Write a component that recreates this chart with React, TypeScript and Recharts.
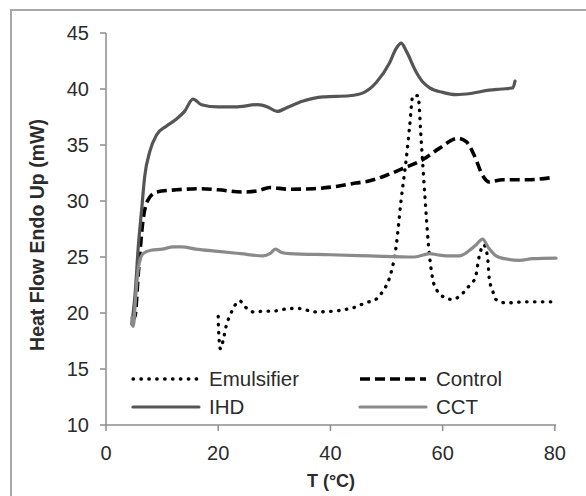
import { LineChart, Line, XAxis, YAxis } from 'recharts'

// temperature (°C) and heat flow (mW)
const emulsifierT = [20, 20.05, 20.4, 20.9, 21.4, 22.2, 23, 23.8, 24.7, 26.2, 28, 30.4, 32.7, 34.5, 37.2, 40.2, 42.5, 44.3, 46.2, 48.2, 49.4, 50.5, 51.7, 52.6, 53.5, 54.1, 54.7, 55.6, 56.2, 56.8, 57.5, 58.2, 59, 60.3, 61.8, 63, 64.2, 65, 65.8, 66.5, 67.3, 68, 68.3, 68.9, 69.5, 71.3, 75, 79.6]
const emulsifierH = [19.7, 18.6, 16.8, 17.6, 18.8, 19.9, 20.7, 21.1, 20.6, 20.1, 20.15, 20.2, 20.4, 20.4, 20.1, 20.15, 20.3, 20.5, 20.9, 21.25, 22, 23.1, 25.9, 30.1, 33.7, 36.6, 39.4, 39.4, 35.2, 30.7, 25.9, 23.1, 22, 21.4, 21.2, 21.5, 22.1, 22.6, 23.1, 25, 26.1, 25, 23.1, 22, 21.2, 20.9, 21, 21]

const controlT = [4.7, 5.2, 5.75, 6.6, 7.5, 9, 12.6, 16.7, 20, 24.4, 27, 29.2, 32.7, 37, 41, 44.5, 47, 50, 52.9, 56.5, 59.4, 62.7, 64.2, 65.7, 67.1, 68.3, 70.7, 75, 79.6]
const controlH = [19.3, 19.8, 23.5, 28.3, 30.1, 30.8, 31, 31.1, 31, 30.8, 30.9, 31.2, 31.05, 31.1, 31.3, 31.6, 31.8, 32.3, 32.9, 33.7, 34.7, 35.6, 35.3, 34, 32.3, 31.7, 31.9, 31.9, 32.1]

const ihdT = [4.6, 5.2, 5.75, 6.35, 6.9, 7.8, 9, 10.8, 12.5, 14, 15.5, 17, 20, 23, 27, 28.8, 30.5, 32.5, 35, 38.7, 43.4, 46, 48.2, 50.5, 51.7, 52.6, 53.5, 55.3, 56.5, 57.7, 60, 62.4, 65, 68.3, 70.5, 72.5, 72.9]
const ihdH = [19, 21.8, 25.9, 29.2, 32.2, 34.4, 35.9, 36.7, 37.3, 38, 39.1, 38.6, 38.4, 38.4, 38.6, 38.4, 38, 38.4, 38.9, 39.3, 39.4, 39.7, 40.6, 42.3, 43.6, 44.1, 43.4, 41.5, 40.6, 40.1, 39.7, 39.5, 39.6, 39.9, 40, 40.1, 40.7]

const cctT = [4.6, 4.85, 5.3, 5.7, 6.05, 6.6, 8, 10, 12, 13.5, 16, 20, 24, 28, 29.2, 30.2, 31.3, 32.7, 40, 47, 55, 57.7, 59, 60.6, 63, 64.8, 66, 67.1, 68.2, 69.5, 71, 73.7, 76, 80.2]
const cctH = [19.6, 18.8, 21.5, 23.8, 24.7, 25.3, 25.6, 25.7, 25.9, 25.9, 25.7, 25.5, 25.3, 25.1, 25.3, 25.7, 25.4, 25.3, 25.2, 25.1, 25, 25.3, 25.2, 25.1, 25.1, 25.6, 26.1, 26.6, 25.8, 25.1, 24.85, 24.7, 24.85, 24.9]

const xTicks = [0, 20, 40, 60, 80]
const yTicks = [10, 15, 20, 25, 30, 35, 40, 45]

const toPoints = (t: number[], h: number[]) => t.map((x, i) => ({ t: x, h: h[i] }))

const font = '"Liberation Sans", Arial, sans-serif'
const textColor = '#2b2b2b'
const axisColor = '#8c8c8c'

const series = [
  { name: 'Emulsifier', data: toPoints(emulsifierT, emulsifierH), color: '#000', width: 3.3, dash: '0.5 7.4', cap: 'round' as const },
  { name: 'Control', data: toPoints(controlT, controlH), color: '#000', width: 3.6, dash: '10 5', cap: 'butt' as const },
  { name: 'IHD', data: toPoints(ihdT, ihdH), color: '#555', width: 3.2, dash: undefined, cap: 'round' as const },
  { name: 'CCT', data: toPoints(cctT, cctH), color: '#8a8a8a', width: 3.2, dash: undefined, cap: 'round' as const },
]

function LegendItem({ s }: { s: (typeof series)[number] }) {
  return (
    <div style={{ display: 'flex', alignItems: 'center', height: 28 }}>
      <svg width={70} height={10} style={{ marginRight: 8 }}>
        <line
          x1={2}
          x2={68}
          y1={5}
          y2={5}
          stroke={s.color}
          strokeWidth={s.width}
          strokeDasharray={s.dash}
          strokeLinecap={s.cap}
        />
      </svg>
      <span>{s.name}</span>
    </div>
  )
}

export default function App() {
  return (
    <div
      style={{
        position: 'absolute',
        left: 0,
        top: 0,
        width: 586,
        height: 496,
        background: '#fff',
        overflow: 'hidden',
        fontFamily: font,
      }}
    >
      <div
        style={{
          position: 'absolute',
          left: 10,
          top: 9,
          width: 620,
          height: 520,
          borderTop: '2.5px solid #a8a8a8',
          borderLeft: '2.5px solid #a8a8a8',
        }}
      />
      <div style={{ position: 'absolute', left: 0, top: 0 }}>
        <LineChart width={586} height={496} margin={{ top: 33, right: 30, bottom: 0, left: 0 }}>
          <XAxis
            dataKey="t"
            type="number"
            domain={[0, 80]}
            ticks={xTicks}
            height={71}
            stroke={axisColor}
            strokeWidth={1.5}
            tickSize={6}
            tickMargin={15}
            tick={{ fill: textColor, fontSize: 20, fontFamily: font }}
            label={{
              content: () => (
                <text x={331} y={481} textAnchor="middle" dominantBaseline="central" fontSize={18} fontWeight="bold" fill={textColor} fontFamily={font}>
                  T (°C)
                </text>
              ),
            }}
          />
          <YAxis
            dataKey="h"
            type="number"
            domain={[10, 45]}
            ticks={yTicks}
            width={106}
            stroke={axisColor}
            strokeWidth={1.5}
            tickSize={6}
            tickMargin={11}
            tick={{ fill: textColor, fontSize: 20, fontFamily: font }}
            label={{
              content: () => (
                <text
                  x={37}
                  y={235}
                  transform="rotate(-90 37 235)"
                  textAnchor="middle"
                  dominantBaseline="central"
                  fontSize={19.5}
                  fontWeight="bold"
                  fill={textColor}
                  fontFamily={font}
                >
                  Heat Flow Endo Up (mW)
                </text>
              ),
            }}
          />
          {series.map((s) => (
            <Line
              key={s.name}
              data={s.data}
              dataKey="h"
              name={s.name}
              type="monotone"
              stroke={s.color}
              strokeWidth={s.width}
              strokeDasharray={s.dash}
              strokeLinecap={s.cap}
              dot={false}
              activeDot={false}
              isAnimationActive={false}
            />
          ))}
        </LineChart>
      </div>
      <div
        style={{
          position: 'absolute',
          left: 131,
          top: 365,
          display: 'grid',
          gridTemplateColumns: '227px 160px',
          fontSize: 20.5,
          color: textColor,
          lineHeight: 1,
        }}
      >
        {series.map((s) => (
          <LegendItem key={s.name} s={s} />
        ))}
      </div>
    </div>
  )
}
